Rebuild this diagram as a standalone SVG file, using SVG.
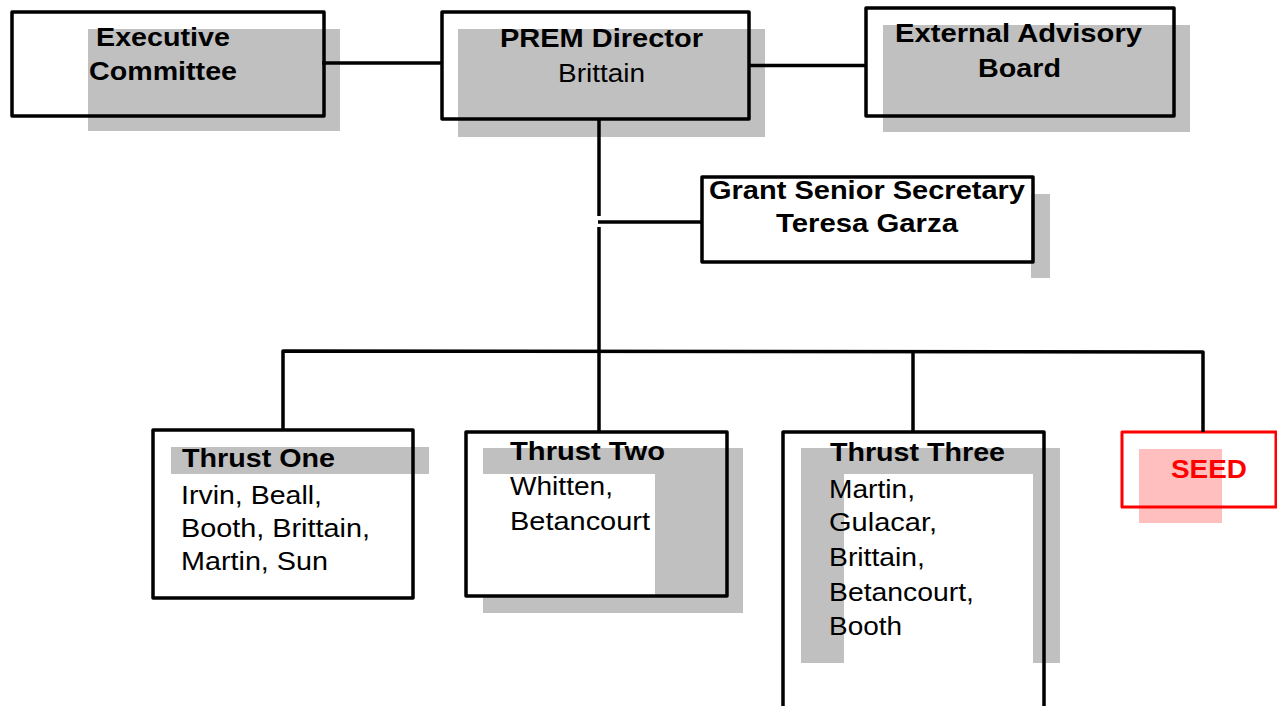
<svg xmlns="http://www.w3.org/2000/svg" width="1277" height="706" viewBox="0 0 1277 706">
  <style>
    .box { fill: none; stroke: #000; stroke-width: 3.5; stroke-linejoin: round; }
    .shade { fill: #c0c0c0; }
    .blank { fill: #fff; }
    .wire { stroke: #000; stroke-width: 3.5; fill: none; stroke-linecap: butt; }
    text { font-family: "Liberation Sans", Arial, sans-serif; font-size: 26px; fill: #000; }
    .b { font-weight: bold; }
    .seed-box { fill: none; stroke: #ff0000; stroke-width: 3; stroke-linejoin: round; }
    .seed-shade { fill: #ffbfbf; }
    .seed-text { fill: #ff0000; font-weight: bold; }
  </style>
  <rect width="1277" height="706" fill="#fff"/>

  <!-- Executive Committee -->
  <g id="executive-committee">
    <rect class="shade" x="88" y="29" width="252" height="102"/>
    <rect class="box" x="12" y="12" width="312" height="104"/>
    <text class="b" x="96" y="46" textLength="134" lengthAdjust="spacingAndGlyphs">Executive</text>
    <text class="b" x="89" y="80" textLength="148" lengthAdjust="spacingAndGlyphs">Committee</text>
  </g>

  <!-- PREM Director -->
  <g id="prem-director">
    <rect class="shade" x="458" y="29" width="307" height="108"/>
    <rect class="box" x="442" y="12" width="307" height="107"/>
    <text class="b" x="500" y="47" textLength="203" lengthAdjust="spacingAndGlyphs">PREM Director</text>
    <text x="558" y="82" textLength="87" lengthAdjust="spacingAndGlyphs">Brittain</text>
  </g>

  <!-- External Advisory Board -->
  <g id="external-advisory-board">
    <rect class="shade" x="883" y="25" width="307" height="107"/>
    <rect class="box" x="866" y="8" width="308" height="108"/>
    <text class="b" x="895" y="42" textLength="247" lengthAdjust="spacingAndGlyphs">External Advisory</text>
    <text class="b" x="978" y="77" textLength="83" lengthAdjust="spacingAndGlyphs">Board</text>
  </g>

  <!-- Grant Senior Secretary -->
  <g id="grant-senior-secretary">
    <rect class="shade" x="1031" y="194" width="19" height="84"/>
    <rect class="box" x="702" y="177" width="331" height="85" fill="#fff"/>
    <text class="b" x="709" y="199" textLength="316" lengthAdjust="spacingAndGlyphs">Grant Senior Secretary</text>
    <text class="b" x="776" y="232" textLength="182" lengthAdjust="spacingAndGlyphs">Teresa Garza</text>
  </g>

  <!-- Thrust One -->
  <g id="thrust-one">
    <rect class="shade" x="171" y="447" width="258" height="27"/>
    <rect class="box" x="153" y="430" width="260" height="168"/>
    <text class="b" x="182" y="467" textLength="153" lengthAdjust="spacingAndGlyphs">Thrust One</text>
    <text x="181" y="504" textLength="141" lengthAdjust="spacingAndGlyphs">Irvin, Beall,</text>
    <text x="181" y="537" textLength="189" lengthAdjust="spacingAndGlyphs">Booth, Brittain,</text>
    <text x="181" y="570" textLength="147" lengthAdjust="spacingAndGlyphs">Martin, Sun</text>
  </g>

  <!-- Thrust Two -->
  <g id="thrust-two">
    <rect class="shade" x="483" y="448" width="260" height="165"/>
    <rect class="blank" x="467" y="474" width="188" height="121"/>
    <rect class="box" x="466" y="432" width="261" height="164"/>
    <text class="b" x="510" y="460" textLength="155" lengthAdjust="spacingAndGlyphs">Thrust Two</text>
    <text x="510" y="495" textLength="103" lengthAdjust="spacingAndGlyphs">Whitten,</text>
    <text x="510" y="530" textLength="140" lengthAdjust="spacingAndGlyphs">Betancourt</text>
  </g>

  <!-- Thrust Three -->
  <g id="thrust-three">
    <rect class="shade" x="801" y="448" width="259" height="215"/>
    <rect class="blank" x="844" y="474" width="189" height="189"/>
    <rect class="box" x="783" y="432" width="261" height="290"/>
    <text class="b" x="830" y="461" textLength="175" lengthAdjust="spacingAndGlyphs">Thrust Three</text>
    <text x="829" y="498" textLength="86" lengthAdjust="spacingAndGlyphs">Martin,</text>
    <text x="829" y="531" textLength="108" lengthAdjust="spacingAndGlyphs">Gulacar,</text>
    <text x="829" y="566" textLength="96" lengthAdjust="spacingAndGlyphs">Brittain,</text>
    <text x="829" y="601" textLength="145" lengthAdjust="spacingAndGlyphs">Betancourt,</text>
    <text x="829" y="635" textLength="73" lengthAdjust="spacingAndGlyphs">Booth</text>
  </g>

  <!-- SEED -->
  <g id="seed">
    <rect class="seed-shade" x="1139" y="449" width="83" height="74"/>
    <rect class="seed-box" x="1122" y="432" width="154" height="75"/>
    <text class="seed-text" x="1171" y="478" textLength="76" lengthAdjust="spacingAndGlyphs">SEED</text>
  </g>

  <!-- connectors, drawn over the shading -->
  <g id="connectors">
    <line class="wire" x1="322" y1="63" x2="443" y2="63"/>
    <line class="wire" x1="748" y1="65.5" x2="867" y2="65.5"/>
    <line class="wire" x1="599" y1="119" x2="599" y2="216"/>
    <line class="wire" x1="599" y1="227" x2="599" y2="432"/>
    <line class="wire" x1="598" y1="222" x2="703" y2="222" stroke-linecap="round"/>
    <polyline class="wire" points="283,430 283,351 1203,352 1203,432" stroke-linejoin="round"/>
    <line class="wire" x1="913" y1="351" x2="913" y2="432"/>
  </g>
</svg>
